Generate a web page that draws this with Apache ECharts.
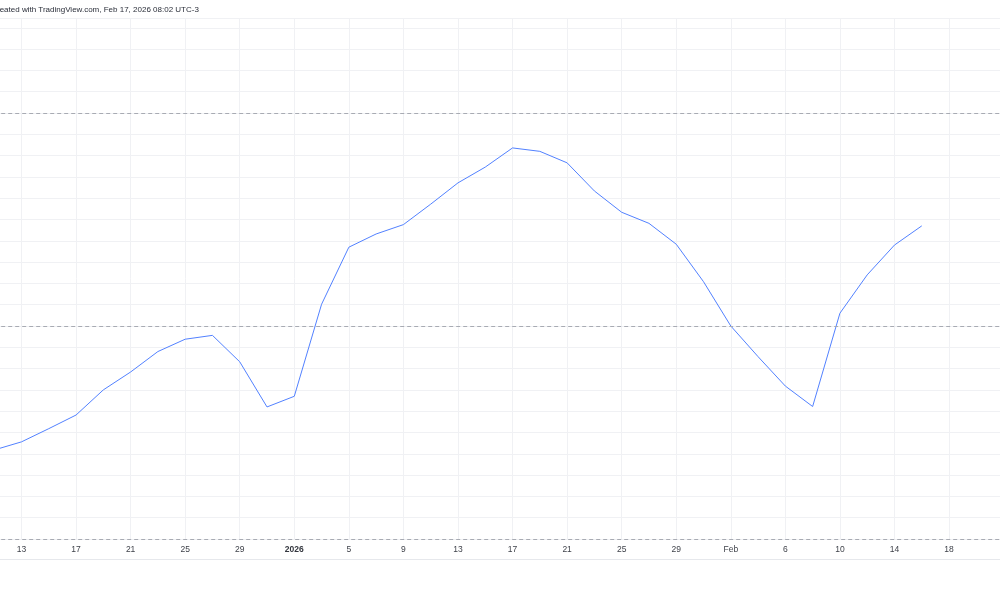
<!DOCTYPE html>
<html>
<head>
<meta charset="utf-8">
<script src="https://cdn.jsdelivr.net/npm/echarts@6/dist/echarts.min.js"></script>
<style>
html,body{margin:0;padding:0;background:#fff;overflow:hidden;width:1000px;height:600px;}
#chart{position:absolute;left:-6px;top:0;width:1012px;height:600px;}
</style>
</head>
<body>
<div id="chart"></div>
<script>
// Bars (every 2 days on TradingView's bar-index time scale)
const dates = [
  '2025-12-11','2025-12-13','2025-12-15','2025-12-17','2025-12-19','2025-12-21','2025-12-23','2025-12-25','2025-12-27','2025-12-29',
  '2025-12-31','2026-01-01','2026-01-03','2026-01-05','2026-01-07','2026-01-09','2026-01-11','2026-01-13','2026-01-15','2026-01-17',
  '2026-01-19','2026-01-21','2026-01-23','2026-01-25','2026-01-27','2026-01-29','2026-01-31','2026-02-02','2026-02-04','2026-02-06',
  '2026-02-08','2026-02-10','2026-02-12','2026-02-14','2026-02-16','2026-02-18','2026-02-20','2026-02-22'
];
const tickLabels = [
  '11','13','15','17','19','21','23','25','27','29',
  '31','2026','3','5','7','9','11','13','15','17',
  '19','21','23','25','27','29','31','Feb','4','6',
  '8','10','12','14','16','18','20','22'
];
const values = [
  20.9, 22.8, 25.9, 29.1, 35.0, 39.2, 44.0, 46.9, 47.8, 41.6,
  31.0, 33.5, 55.1, 68.5, 71.6, 73.8, 78.6, 83.6, 87.3, 91.8,
  91.0, 88.3, 81.7, 76.7, 74.1, 69.2, 60.4, 50.0, 42.8, 35.9,
  31.1, 53.0, 62.0, 69.0, 73.5
];
const levels = [0, 50, 100];
const titleText = 'Created with TradingView.com, Feb 17, 2026 08:02 UTC-3';

const chart = echarts.init(document.getElementById('chart'), null, {renderer: 'canvas'});
const shown = (i) => i % 2 === 1 && i < dates.length - 1;
chart.setOption({
  animation: false,
  backgroundColor: '#ffffff',
  grid: {left: 0.2, right: 2.4, top: 18, bottom: 61, containLabel: false},
  xAxis: {
    type: 'category',
    data: dates,
    boundaryGap: false,
    axisLine: {show: false},
    axisTick: {show: false},
    axisLabel: {
      interval: (i) => shown(i),
      margin: 6,
      fontSize: 8.5,
      color: '#3f424a',
      fontFamily: 'Liberation Sans, Arial, sans-serif',
      formatter: (v, i) => tickLabels[i] === '2026' ? '{y|2026}' : tickLabels[i],
      rich: {y: {fontSize: 8.5, fontWeight: 'bold', color: '#33363e', fontFamily: 'Liberation Sans, Arial, sans-serif'}}
    },
    splitLine: {show: true, interval: (i) => shown(i), lineStyle: {color: '#f0f1f4', width: 1}}
  },
  yAxis: {
    type: 'value',
    min: 0,
    max: 122.3,
    interval: 5,
    axisLine: {show: false},
    axisTick: {show: false},
    axisLabel: {show: false},
    splitLine: {show: true, lineStyle: {color: '#f0f1f4', width: 1}}
  },
  graphic: [{
    type: 'line',
    shape: {x1: 0, y1: 559.5, x2: 1012, y2: 559.5},
    style: {stroke: '#e6e8ec', lineWidth: 1},
    silent: true
  }, {
    type: 'text',
    x: -2.8,
    y: 10,
    silent: true,
    style: {
      text: titleText,
      fill: '#2a2e39',
      font: '8px "Liberation Sans", Arial, sans-serif',
      verticalAlign: 'middle',
      align: 'left'
    }
  }],
  series: [{
    type: 'line',
    data: values,
    symbol: 'none',
    lineStyle: {color: '#5281ff', width: 1},
    silent: true,
    markLine: {
      silent: true,
      symbol: 'none',
      label: {show: false},
      lineStyle: {color: '#a8abb3', type: [4, 3], width: 1},
      data: levels.map(v => ({yAxis: v}))
    }
  }]
});
</script>
</body>
</html>
